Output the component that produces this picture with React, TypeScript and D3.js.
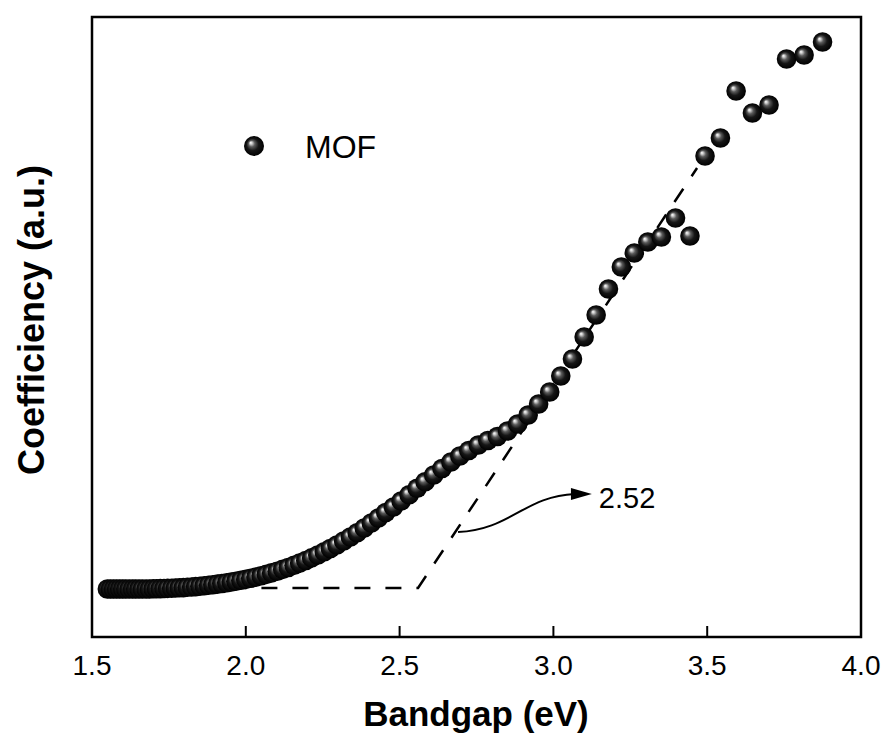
import React from "react";
import * as d3 from "d3";

// Bandgap (eV) values of the MOF curve
const bandgap = [
  1.55, 1.56, 1.57, 1.58, 1.59, 1.6, 1.61, 1.621, 1.632, 1.642, 1.653, 1.664, 1.676, 1.687,
  1.699, 1.71, 1.722, 1.734, 1.746, 1.759, 1.771, 1.784, 1.797, 1.81, 1.824, 1.837, 1.851,
  1.865, 1.879, 1.893, 1.908, 1.922, 1.938, 1.953, 1.968, 1.984, 2.0, 2.016, 2.033, 2.05,
  2.067, 2.084, 2.102, 2.12, 2.138, 2.157, 2.175, 2.195, 2.214, 2.234, 2.255, 2.275, 2.296,
  2.318, 2.34, 2.362, 2.385, 2.408, 2.431, 2.455, 2.48, 2.505, 2.531, 2.557, 2.583, 2.611,
  2.638, 2.667, 2.696, 2.725, 2.756, 2.787, 2.818, 2.851, 2.884, 2.918, 2.952, 2.988, 3.024,
  3.062, 3.1, 3.139, 3.179, 3.221, 3.263, 3.307, 3.351, 3.397, 3.444, 3.493, 3.543, 3.594,
  3.647, 3.701, 3.758, 3.815, 3.875,
];

// Coefficiency (a.u.)
const coefficiency = [
  0.48, 0.48, 0.48, 0.48, 0.48, 0.48, 0.48, 0.48, 0.48, 0.48, 0.48, 0.48, 0.48, 0.48,
  0.482, 0.483, 0.484, 0.485, 0.486, 0.488, 0.49, 0.492, 0.494, 0.497,
  0.5, 0.504, 0.508, 0.513, 0.518, 0.523, 0.529, 0.535, 0.542, 0.55,
  0.558, 0.567, 0.576, 0.587, 0.599, 0.612, 0.626, 0.641, 0.658, 0.676,
  0.695, 0.717, 0.739, 0.765, 0.791, 0.82, 0.852, 0.885, 0.92, 0.96,
  1.0, 1.043, 1.09, 1.14, 1.19, 1.245, 1.3, 1.36, 1.423, 1.488,
  1.552, 1.62, 1.685, 1.75, 1.81, 1.865, 1.92, 1.965, 2.005, 2.06,
  2.13, 2.22, 2.33, 2.45, 2.61, 2.78, 3.0, 3.22, 3.48, 3.7,
  3.84, 3.95, 4.0, 4.19, 4.01, 4.81, 4.99, 5.46, 5.24, 5.32,
  5.78, 5.82, 5.95,
];

const xTicks = [1.5, 2.0, 2.5, 3.0, 3.5, 4.0];

// Tauc-style fit lines (dashed)
const fitX = [1.95, 2.56, 3.467];
const fitY = [0.49, 0.49, 4.69];

// Annotation
const annotationText = "2.52";
const seriesName = "MOF";

const W = 885;
const H = 738;
const M = { left: 92, right: 861, top: 17, bottom: 637 };
const FONT = "'Liberation Sans', Arial, Helvetica, sans-serif";

export default function App() {
  const x = d3.scaleLinear().domain([1.5, 4.0]).range([M.left, M.right]);
  const y = d3.scaleLinear().domain([0, 6.2]).range([M.bottom, M.top]);

  const pts = bandgap.map((b, i) => ({ b, c: coefficiency[i] }));
  const fitLine = d3
    .line<number>()
    .x((d) => x(d))
    .y((_, i) => y(fitY[i]))(fitX);

  // annotation geometry in data coordinates
  const aStart = [x(2.69), y(1.05)];
  const aEnd = [x(3.07), y(1.43)];
  const tip = [x(3.125), y(1.43)];
  const arrowPath = `M${aStart[0]},${aStart[1]} C${aStart[0] + 52},${aStart[1] - 2} ${aEnd[0] - 50},${aEnd[1] + 2} ${aEnd[0]},${aEnd[1]}`;

  return (
    <svg
      width={W}
      height={H}
      style={{ position: "absolute", left: 0, top: 0, background: "#fff" }}
      fontFamily={FONT}
    >
      <defs>
        <radialGradient id="sphere" cx="0.5" cy="0.5" r="0.5" fx="0.33" fy="0.33">
          <stop offset="0" stopColor="#ffffff" />
          <stop offset="0.12" stopColor="#cfcfcf" />
          <stop offset="0.32" stopColor="#5a5a5a" />
          <stop offset="0.6" stopColor="#161616" />
          <stop offset="1" stopColor="#000000" />
        </radialGradient>
      </defs>

      {/* dashed fit lines */}
      <path d={fitLine || ""} fill="none" stroke="#000" strokeWidth={2.5} strokeDasharray="16,15" />

      {/* data points */}
      {pts.map((p, i) => (
        <circle key={i} cx={x(p.b)} cy={y(p.c)} r={9.8} fill="url(#sphere)" />
      ))}

      {/* annotation arrow */}
      <path d={arrowPath} fill="none" stroke="#000" strokeWidth={2} />
      <polygon
        points={`${tip[0]},${tip[1]} ${aEnd[0] - 4},${tip[1] - 6} ${aEnd[0] - 4},${tip[1] + 6}`}
        fill="#000"
      />
      <text x={tip[0] + 7} y={tip[1] + 14} fontSize={29} fill="#000">
        {annotationText}
      </text>

      {/* frame */}
      <rect
        x={M.left}
        y={M.top}
        width={M.right - M.left}
        height={M.bottom - M.top}
        fill="none"
        stroke="#000"
        strokeWidth={2.5}
      />

      {/* x ticks */}
      {xTicks.map((t) => (
        <g key={t}>
          <line x1={x(t)} x2={x(t)} y1={M.bottom} y2={M.bottom - 11} stroke="#000" strokeWidth={2} />
          <text x={x(t)} y={675} fontSize={28} textAnchor="middle" fill="#000">
            {d3.format(".1f")(t)}
          </text>
        </g>
      ))}

      {/* axis titles */}
      <text x={476} y={726} fontSize={35} fontWeight="bold" textAnchor="middle" fill="#000">
        Bandgap (eV)
      </text>
      <text
        transform={`translate(44, 320) rotate(-90)`}
        fontSize={36}
        fontWeight="bold"
        textAnchor="middle"
        fill="#000"
      >
        Coefficiency (a.u.)
      </text>

      {/* legend */}
      <circle cx={254} cy={146} r={10} fill="url(#sphere)" />
      <text x={305} y={158} fontSize={32} fill="#000">
        {seriesName}
      </text>
    </svg>
  );
}
